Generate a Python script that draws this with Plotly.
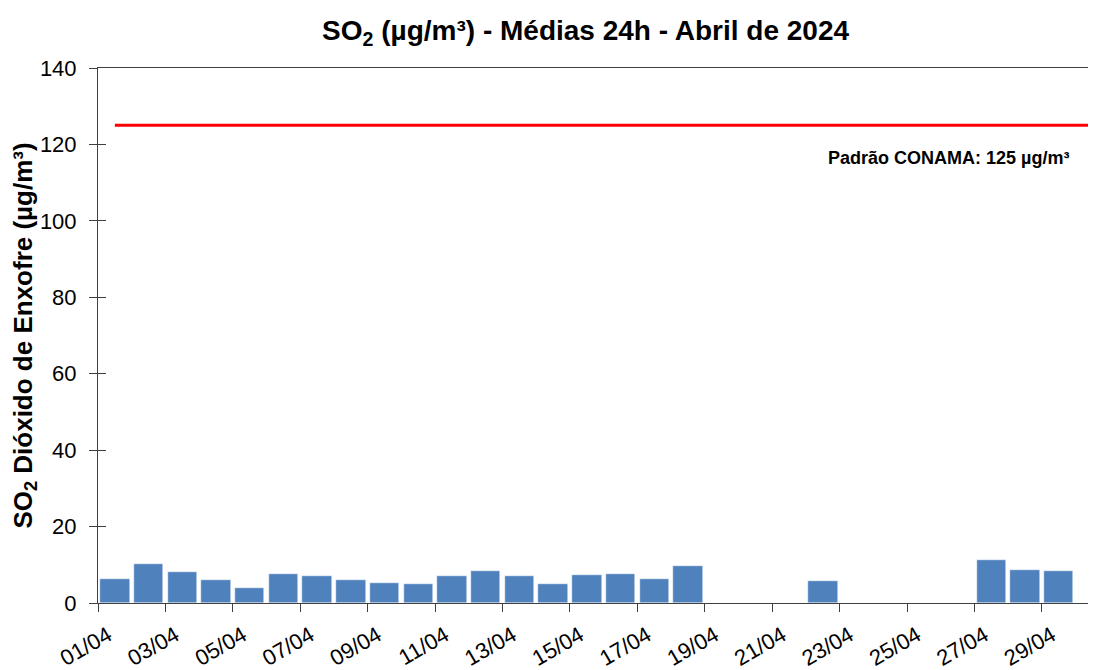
import plotly.graph_objects as go

days = [f"{d:02d}/04" for d in range(1, 31)]
so2 = [6.4, 10.1, 8.0, 6.1, 3.9, 7.7, 7.1, 6.1, 5.2, 5.1,
       7.0, 8.5, 7.1, 5.1, 7.2, 7.5, 6.4, 9.8, None, None,
       None, 5.8, None, None, None, None, 11.3, 8.7, 8.5, None]
conama = [125] * len(days)
tick_days = days[::2]

# numeric positions: day n occupies [n, n+1] on the axis, bar centered at n+0.5
pos = [i + 1.5 for i in range(len(days))]
tick_pos = [i + 1 for i in range(0, len(days), 2)]

FONT = "Liberation Sans, Arial, sans-serif"
AX = "#404040"

fig = go.Figure()
fig.add_trace(go.Bar(x=pos, y=so2, width=0.87,
                     marker=dict(color="#4F81BD", line=dict(color="white", width=0.5)),
                     showlegend=False, hoverinfo="x+y"))
fig.add_trace(go.Scatter(x=pos, y=conama, mode="lines", yaxis="y2",
                         line=dict(color="#FF0000", width=3), showlegend=False))

fig.add_annotation(x=29.85, y=116.5, xref="x", yref="y", xanchor="right", yanchor="middle",
                   text="<b>Padrão CONAMA: 125 µg/m³</b>", showarrow=False,
                   font=dict(family=FONT, size=18, color="black"))

fig.update_layout(
    width=1096, height=670,
    paper_bgcolor="white", plot_bgcolor="white",
    margin=dict(l=90, r=0, t=60, b=75),
    title=dict(text="<b>SO<sub>2</sub> (µg/m³) - Médias 24h - Abril de 2024</b>",
               x=0.527, xanchor="center", y=0.967, yanchor="middle",
               font=dict(family=FONT, size=28, color="black")),
    font=dict(family=FONT, color="black"),
    bargap=0,
    yaxis2=dict(overlaying="y", side="left", range=[0, 140], dtick=20,
                ticks="inside", ticklen=8, tickcolor=AX, showticklabels=False,
                showgrid=False, zeroline=False, showline=False, automargin=False),
)
fig.update_xaxes(range=[1, 30.84], tickmode="array", tickvals=tick_pos, ticktext=tick_days,
                 tickangle=-30, ticks="outside", ticklen=8, tickcolor=AX,
                 showline=True, linecolor=AX, linewidth=1, mirror=True,
                 showgrid=False, zeroline=False, automargin=False,
                 ticklabelshift=10, ticklabelstandoff=2,
                 tickfont=dict(family=FONT, size=22, color="black"))
fig.layout.yaxis.update(range=[0, 140], dtick=20, ticks="outside", ticklen=8, tickcolor=AX,
                        showline=True, linecolor=AX, linewidth=1,
                        showgrid=False, zeroline=False, automargin=False,
                        ticklabelstandoff=8,
                        tickfont=dict(family=FONT, size=22, color="black"),
                        title=dict(text="<b>SO<sub>2</sub> Dióxido de Enxofre (µg/m³)</b>",
                                   font=dict(family=FONT, size=26, color="black"), standoff=2))

fig.write_html("out.html")
